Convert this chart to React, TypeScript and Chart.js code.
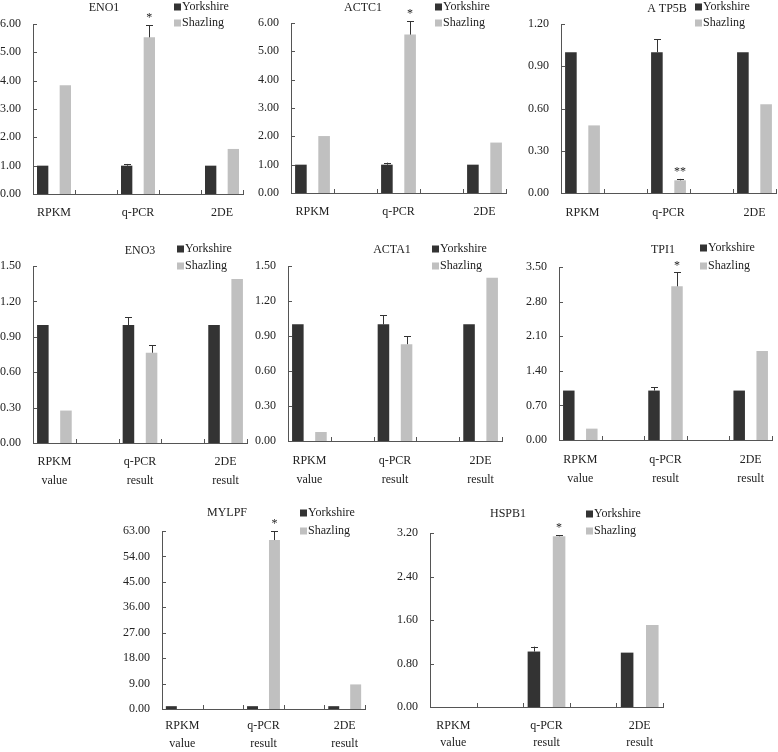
import React, { useEffect, useRef } from "react";
import { Chart, registerables } from "chart.js";

Chart.register(...registerables);

// ---------- data ----------
const SERIES = ["Yorkshire", "Shazling"];
const CATS_SHORT: (string | string[])[] = ["RPKM", "", "q-PCR", "", "2DE"];
const CATS_LONG: (string | string[])[] = [["RPKM", "value"], "", ["q-PCR", "result"], "", ["2DE", "result"]];

const ENO1_Y = [1.0, null, 1.0, null, 1.0];
const ENO1_S = [3.84, null, 5.53, null, 1.59];
const ENO1_YE = [0, 0, 0.06, 0, 0];
const ENO1_SE = [0, 0, 0.43, 0, 0];
const ENO1_MARK = ["", "", "*", "", ""];

const ACTC1_Y = [1.0, null, 1.0, null, 1.0];
const ACTC1_S = [2.01, null, 5.59, null, 1.78];
const ACTC1_YE = [0, 0, 0.07, 0, 0];
const ACTC1_SE = [0, 0, 0.47, 0, 0];
const ACTC1_MARK = ["", "", "*", "", ""];

const ATP5B_Y = [1.0, null, 1.0, null, 1.0];
const ATP5B_S = [0.48, null, 0.09, null, 0.63];
const ATP5B_YE = [0, 0, 0.09, 0, 0];
const ATP5B_SE = [0, 0, 0.01, 0, 0];
const ATP5B_MARK = ["", "", "**", "", ""];

const ENO3_Y = [1.0, null, 1.0, null, 1.0];
const ENO3_S = [0.275, null, 0.765, null, 1.39];
const ENO3_YE = [0, 0, 0.065, 0, 0];
const ENO3_SE = [0, 0, 0.065, 0, 0];
const ENO3_MARK = ["", "", "", "", ""];

const ACTA1_Y = [1.0, null, 1.0, null, 1.0];
const ACTA1_S = [0.077, null, 0.83, null, 1.4];
const ACTA1_YE = [0, 0, 0.08, 0, 0];
const ACTA1_SE = [0, 0, 0.07, 0, 0];
const ACTA1_MARK = ["", "", "", "", ""];

const TPI1_Y = [1.0, null, 1.0, null, 1.0];
const TPI1_S = [0.23, null, 3.11, null, 1.8];
const TPI1_YE = [0, 0, 0.07, 0, 0];
const TPI1_SE = [0, 0, 0.28, 0, 0];
const TPI1_MARK = ["", "", "*", "", ""];

const MYLPF_Y = [1.0, null, 1.0, null, 1.0];
const MYLPF_S = [null, null, 59.8, null, 8.7];
const MYLPF_YE = [0, 0, 0, 0, 0];
const MYLPF_SE = [0, 0, 3.1, 0, 0];
const MYLPF_MARK = ["", "", "*", "", ""];

const HSPB1_Y = [null, null, 1.02, null, 1.0];
const HSPB1_S = [null, null, 3.14, null, 1.51];
const HSPB1_YE = [0, 0, 0.09, 0, 0];
const HSPB1_SE = [0, 0, 0.02, 0, 0];
const HSPB1_MARK = ["", "", "*", "", ""];

// ---------- style ----------
const FONT = "'Liberation Serif', 'Times New Roman', serif";
const DARK = "#333333";
const LIGHT = "#c0c0c0";
const AXIS = "#555555";
const TEXT = "#222222";

type Panel = {
  title: string;
  labels: (string | string[])[];
  ys: (number | null)[];
  ss: (number | null)[];
  ye: number[];
  se: number[];
  marks: string[];
  yMax: number;
  yStep: number;
  box: [number, number, number, number];
  area: [number, number, number, number];
  titlePos: [number, number];
  legendPos: [number, number, number];
  labelGap: number;
  lineH: number;
};

const PANELS: Panel[] = [
  {
    title: "ENO1", labels: CATS_SHORT, ys: ENO1_Y, ss: ENO1_S, ye: ENO1_YE, se: ENO1_SE, marks: ENO1_MARK,
    yMax: 6, yStep: 1, box: [0, 0, 255, 232], area: [33, 24, 243, 194],
    titlePos: [104, 8], legendPos: [174, 7, 23], labelGap: 19, lineH: 19,
  },
  {
    title: "ACTC1", labels: CATS_SHORT, ys: ACTC1_Y, ss: ACTC1_S, ye: ACTC1_YE, se: ACTC1_SE, marks: ACTC1_MARK,
    yMax: 6, yStep: 1, box: [255, 0, 255, 232], area: [291, 23, 506, 193],
    titlePos: [363, 8], legendPos: [435, 7, 23], labelGap: 19, lineH: 19,
  },
  {
    title: "A TP5B", labels: CATS_SHORT, ys: ATP5B_Y, ss: ATP5B_S, ye: ATP5B_YE, se: ATP5B_SE, marks: ATP5B_MARK,
    yMax: 1.2, yStep: 0.3, box: [510, 0, 268, 232], area: [561, 24, 776, 193],
    titlePos: [667, 9], legendPos: [695, 7, 23], labelGap: 20, lineH: 19,
  },
  {
    title: "ENO3", labels: CATS_LONG, ys: ENO3_Y, ss: ENO3_S, ye: ENO3_YE, se: ENO3_SE, marks: ENO3_MARK,
    yMax: 1.5, yStep: 0.3, box: [0, 240, 255, 252], area: [33, 266, 247, 443],
    titlePos: [140, 251], legendPos: [177, 249, 266], labelGap: 19, lineH: 19,
  },
  {
    title: "ACTA1", labels: CATS_LONG, ys: ACTA1_Y, ss: ACTA1_S, ye: ACTA1_YE, se: ACTA1_SE, marks: ACTA1_MARK,
    yMax: 1.5, yStep: 0.3, box: [255, 240, 255, 252], area: [288, 266, 502, 441],
    titlePos: [392, 250], legendPos: [432, 249, 266], labelGap: 20, lineH: 19,
  },
  {
    title: "TPI1", labels: CATS_LONG, ys: TPI1_Y, ss: TPI1_S, ye: TPI1_YE, se: TPI1_SE, marks: TPI1_MARK,
    yMax: 3.5, yStep: 0.7, box: [510, 240, 268, 252], area: [559, 267, 772, 440],
    titlePos: [663, 250], legendPos: [700, 248, 266], labelGap: 20, lineH: 19,
  },
  {
    title: "MYLPF", labels: CATS_LONG, ys: MYLPF_Y, ss: MYLPF_S, ye: MYLPF_YE, se: MYLPF_SE, marks: MYLPF_MARK,
    yMax: 63, yStep: 9, box: [110, 495, 270, 257], area: [162, 531, 365, 709],
    titlePos: [227, 513], legendPos: [300, 513, 531], labelGap: 17, lineH: 18,
  },
  {
    title: "HSPB1", labels: CATS_LONG, ys: HSPB1_Y, ss: HSPB1_S, ye: HSPB1_YE, se: HSPB1_SE, marks: HSPB1_MARK,
    yMax: 3.2, yStep: 0.8, box: [380, 495, 320, 257], area: [430, 533, 663, 707],
    titlePos: [508, 514], legendPos: [586, 514, 531], labelGap: 19, lineH: 17,
  },
];

// ---------- decoration plugin ----------
const decorPlugin = {
  id: "decor",
  afterDatasetsDraw(chart: any, _args: any, opts: any) {
    const ctx = chart.ctx;
    const xs = chart.scales.x;
    const ys = chart.scales.y;
    const area = chart.chartArea;
    const p: Panel = opts.panel;
    const ox = p.box[0];
    const oy = p.box[1];
    ctx.save();
    // inside tick marks
    ctx.strokeStyle = AXIS;
    ctx.lineWidth = 1;
    ctx.beginPath();
    for (const t of ys.ticks) {
      const y = Math.round(ys.getPixelForValue(t.value)) + 0.5;
      ctx.moveTo(area.left, y);
      ctx.lineTo(area.left + 4, y);
    }
    for (let i = 0; i <= p.labels.length; i++) {
      const x = Math.round(xs.getPixelForValue(i - 0.5)) + 0.5;
      ctx.moveTo(x, area.bottom);
      ctx.lineTo(x, area.bottom - 4);
    }
    ctx.stroke();

    // error bars + significance marks
    const errs = [p.ye, p.se];
    ctx.strokeStyle = DARK;
    errs.forEach((arr, d) => {
      const meta = chart.getDatasetMeta(d);
      const vals = d === 0 ? p.ys : p.ss;
      arr.forEach((e, i) => {
        const v = vals[i];
        if (v == null) return;
        const bar = meta.data[i];
        const x = Math.round(bar.x) + 0.5;
        const yTop = ys.getPixelForValue(v + e);
        if (e > 0) {
          ctx.beginPath();
          ctx.moveTo(x, bar.y);
          ctx.lineTo(x, yTop);
          ctx.moveTo(x - 3.5, Math.round(yTop) + 0.5);
          ctx.lineTo(x + 3.5, Math.round(yTop) + 0.5);
          ctx.stroke();
        }
        if (d === 1 && p.marks[i]) {
          ctx.fillStyle = TEXT;
          ctx.font = `12px ${FONT}`;
          ctx.textAlign = "center";
          ctx.textBaseline = "middle";
          ctx.fillText(p.marks[i], bar.x, yTop - 7);
        }
      });
    });

    // title
    ctx.fillStyle = TEXT;
    ctx.font = `12px ${FONT}`;
    ctx.textAlign = "center";
    ctx.textBaseline = "middle";
    ctx.fillText(p.title, p.titlePos[0] - ox, p.titlePos[1] - oy);

    // legend
    const colors = [DARK, LIGHT];
    const lx = p.legendPos[0] - ox;
    [p.legendPos[1], p.legendPos[2]].forEach((ly, k) => {
      const yy = ly - oy;
      ctx.fillStyle = colors[k];
      ctx.fillRect(lx, yy - 3.5, 7, 7);
      ctx.fillStyle = TEXT;
      ctx.textAlign = "left";
      ctx.textBaseline = "middle";
      ctx.fillText(chart.data.datasets[k].label, lx + 8, yy);
    });
    ctx.restore();
  },
};

function PanelChart({ p }: { p: Panel }) {
  const ref = useRef<HTMLCanvasElement | null>(null);
  useEffect(() => {
    if (!ref.current) return;
    const [bx, by, bw, bh] = p.box;
    const [L, T, R, B] = p.area;
    const font = { family: FONT, size: 12, lineHeight: p.lineH / 12 };
    const chart = new Chart(ref.current, {
      type: "bar",
      data: {
        labels: p.labels as any,
        datasets: [
          { label: SERIES[0], data: p.ys as any, backgroundColor: DARK, categoryPercentage: 1.08, barPercentage: 0.5 },
          { label: SERIES[1], data: p.ss as any, backgroundColor: LIGHT, categoryPercentage: 1.08, barPercentage: 0.5 },
        ],
      },
      options: {
        responsive: false,
        animation: false,
        devicePixelRatio: 1,
        layout: { padding: { left: 0, top: T - by, right: bx + bw - R, bottom: 0 } },
        plugins: {
          legend: { display: false },
          title: { display: false },
          tooltip: { enabled: false },
          decor: { panel: p },
        } as any,
        scales: {
          x: {
            grid: { display: false, drawTicks: false },
            border: { display: true, color: AXIS, width: 1 },
            ticks: {
              autoSkip: false,
              maxRotation: 0,
              minRotation: 0,
              padding: p.labelGap - p.lineH / 2,
              color: TEXT,
              font,
            },
            afterFit: (s: any) => {
              s.height = by + bh - B;
            },
          },
          y: {
            min: 0,
            max: p.yMax,
            grid: { display: false, drawTicks: false },
            border: { display: true, color: AXIS, width: 1 },
            ticks: {
              stepSize: p.yStep,
              padding: 12,
              color: TEXT,
              font: { family: FONT, size: 12 },
              callback: (v: any) => Number(v).toFixed(2),
            },
            afterFit: (s: any) => {
              s.width = L - bx;
            },
          },
        },
      },
      plugins: [decorPlugin as any],
    });
    return () => chart.destroy();
  }, [p]);
  const [bx, by, bw, bh] = p.box;
  return (
    <canvas
      ref={ref}
      width={bw}
      height={bh}
      style={{ position: "absolute", left: bx, top: by, width: bw, height: bh }}
    />
  );
}

export default function App() {
  return (
    <div style={{ position: "absolute", left: 0, top: 0, width: 778, height: 752, background: "#ffffff", overflow: "hidden" }}>
      {PANELS.map((p) => (
        <PanelChart key={p.title} p={p} />
      ))}
    </div>
  );
}
